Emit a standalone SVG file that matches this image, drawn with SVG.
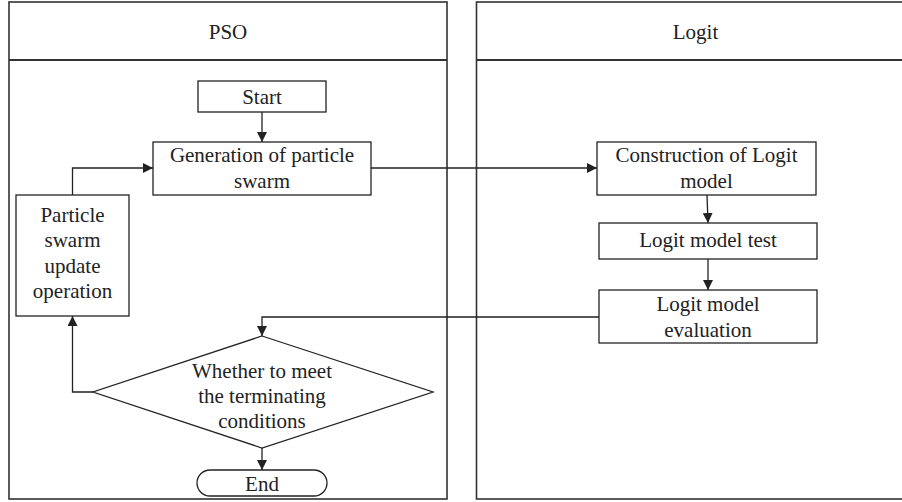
<svg xmlns="http://www.w3.org/2000/svg" width="902" height="502" viewBox="0 0 902 502">
<style>
.panel{fill:none;stroke:#333;stroke-width:1.6}
.hdr{stroke:#333;stroke-width:2.2}
.box{fill:#fff;stroke:#222;stroke-width:1.3}
.t{font-family:"Liberation Serif","Times New Roman",serif;font-size:21px;fill:#222;text-anchor:middle}
.c{fill:none;stroke:#222;stroke-width:1.3}
</style>
<defs>
<marker id="ah" viewBox="0 0 10 10" refX="10" refY="5" markerWidth="10" markerHeight="10" markerUnits="userSpaceOnUse" orient="auto">
<path d="M0,0 L10,5 L0,10 Z" fill="#222"/>
</marker>
</defs>
<rect width="902" height="502" fill="#fff"/>
<g id="lane-pso">
<rect class="panel" x="9" y="2" width="438" height="497"/>
<line class="hdr" x1="9" y1="60" x2="447" y2="60"/>
<text class="t" x="228" y="39">PSO</text>
</g>
<g id="lane-logit">
<rect class="panel" x="476.5" y="2" width="440" height="497"/>
<line class="hdr" x1="476.5" y1="60" x2="916" y2="60"/>
<text class="t" x="695.5" y="39">Logit</text>
</g>
<g id="connectors">
<path class="c" d="M262,112 V142" marker-end="url(#ah)"/>
<path class="c" d="M72.5,195 V168 H153" marker-end="url(#ah)"/>
<path class="c" d="M371,168 H597" marker-end="url(#ah)"/>
<path class="c" d="M707,195 L708,223" marker-end="url(#ah)"/>
<path class="c" d="M708,259 V290" marker-end="url(#ah)"/>
<path class="c" d="M599,317 H262 V336" marker-end="url(#ah)"/>
<path class="c" d="M93,392 H72.5 V316" marker-end="url(#ah)"/>
<path class="c" d="M262,448 V470" marker-end="url(#ah)"/>
</g>
<g id="start">
<rect class="box" x="198" y="81" width="128" height="31"/>
<text class="t" x="262" y="104">Start</text>
</g>
<g id="generation">
<rect class="box" x="153" y="142" width="218" height="53"/>
<text class="t" x="262" y="162">Generation of particle</text>
<text class="t" x="262" y="188">swarm</text>
</g>
<g id="update">
<rect class="box" x="16" y="195" width="113" height="121"/>
<text class="t" x="72.5" y="222">Particle</text>
<text class="t" x="72.5" y="247">swarm</text>
<text class="t" x="72.5" y="273">update</text>
<text class="t" x="72.5" y="298">operation</text>
</g>
<g id="decision">
<polygon class="box" points="262,336 433,392 262,448 93,392"/>
<text class="t" x="262" y="378">Whether to meet</text>
<text class="t" x="262" y="403">the terminating</text>
<text class="t" x="262" y="428">conditions</text>
</g>
<g id="end">
<rect class="box" x="197" y="470" width="130" height="26" rx="13" ry="13"/>
<text class="t" x="262" y="491">End</text>
</g>
<g id="construction">
<rect class="box" x="597" y="142" width="219" height="53"/>
<text class="t" x="706.5" y="162">Construction of Logit</text>
<text class="t" x="706.5" y="188">model</text>
</g>
<g id="test">
<rect class="box" x="599" y="223" width="218" height="36"/>
<text class="t" x="708" y="247">Logit model test</text>
</g>
<g id="evaluation">
<rect class="box" x="599" y="290" width="218" height="53"/>
<text class="t" x="708" y="311">Logit model</text>
<text class="t" x="708" y="337">evaluation</text>
</g>
</svg>
